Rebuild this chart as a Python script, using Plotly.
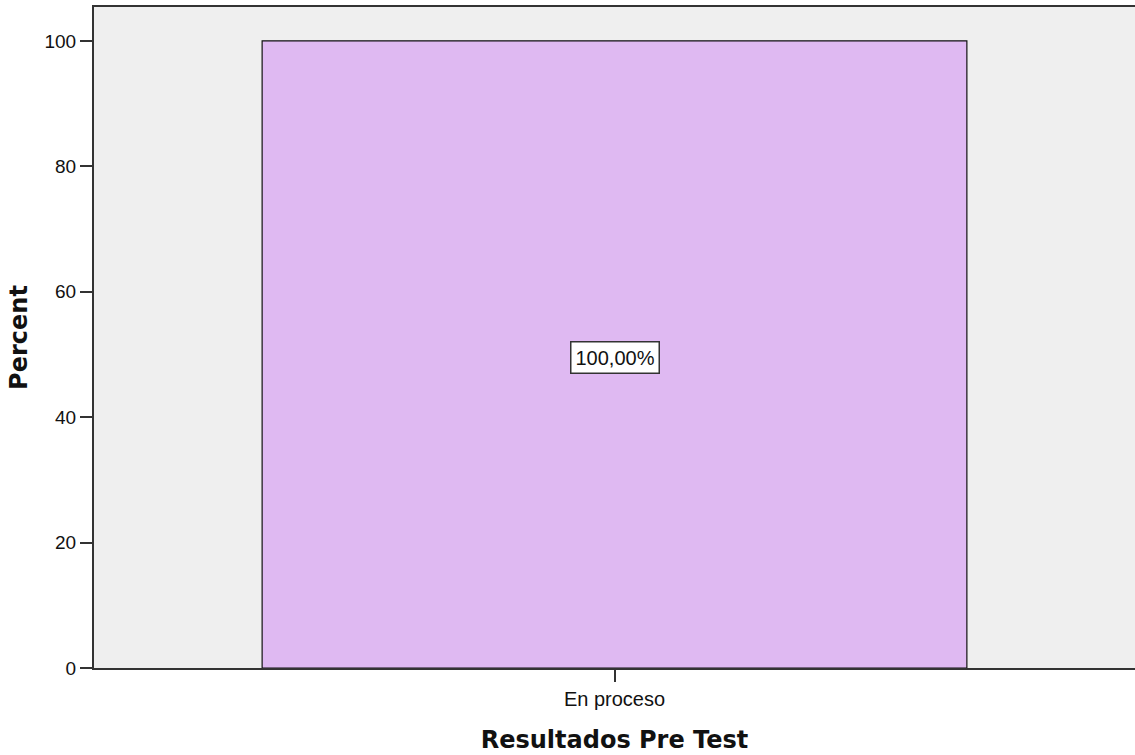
import plotly.graph_objects as go

categories = ["En proceso"]
percent = [100.0]
bar_labels = ["100,00%"]
y_ticks = [0, 20, 40, 60, 80, 100]

fig = go.Figure()
fig.add_trace(go.Bar(
    x=categories, y=percent, width=0.677,
    marker=dict(color="#dfb9f2", line=dict(color="#111111", width=1.2)),
    hoverinfo="skip",
))

# SPSS style value label in a boxed note at bar mid-height
for cat, val, lab in zip(categories, percent, bar_labels):
    fig.add_annotation(x=cat, y=val / 2, yshift=-3, text=lab, showarrow=False,
                       bgcolor="white", bordercolor="#333333", borderwidth=1.5, borderpad=4,
                       font=dict(size=20, color="#111111"))

fig.update_layout(
    width=1135, height=755,
    margin=dict(l=94, r=0, t=7, b=87),
    paper_bgcolor="white", plot_bgcolor="#efefef",
    font=dict(family="Liberation Sans, Arial, sans-serif", color="#111111"),
    showlegend=False,
)
fig.update_xaxes(
    range=[-0.5, 0.5], showline=True, mirror=True, linecolor="#333333", linewidth=2,
    ticks="outside", ticklen=12, tickwidth=1.5, tickcolor="#333333",
    tickfont=dict(size=20), showgrid=False,
    title=dict(text="<b>Resultados Pre Test</b>", standoff=22,
               font=dict(size=24, family="DejaVu Sans, sans-serif")),
)
fig.update_yaxes(
    range=[0, 105.4], tickvals=y_ticks, showline=True, linecolor="#333333", linewidth=2,
    ticks="outside", ticklen=12, tickwidth=1.5, tickcolor="#333333",
    tickfont=dict(size=19), showgrid=False, zeroline=False,
    title=dict(text="<b>Percent</b>", standoff=10,
               font=dict(size=24, family="DejaVu Sans, sans-serif")),
)

# drop the default body margin so the figure sits at the window origin
fig.write_html("out.html", config={"displayModeBar": False},
               post_script="document.body.style.margin='0';")
